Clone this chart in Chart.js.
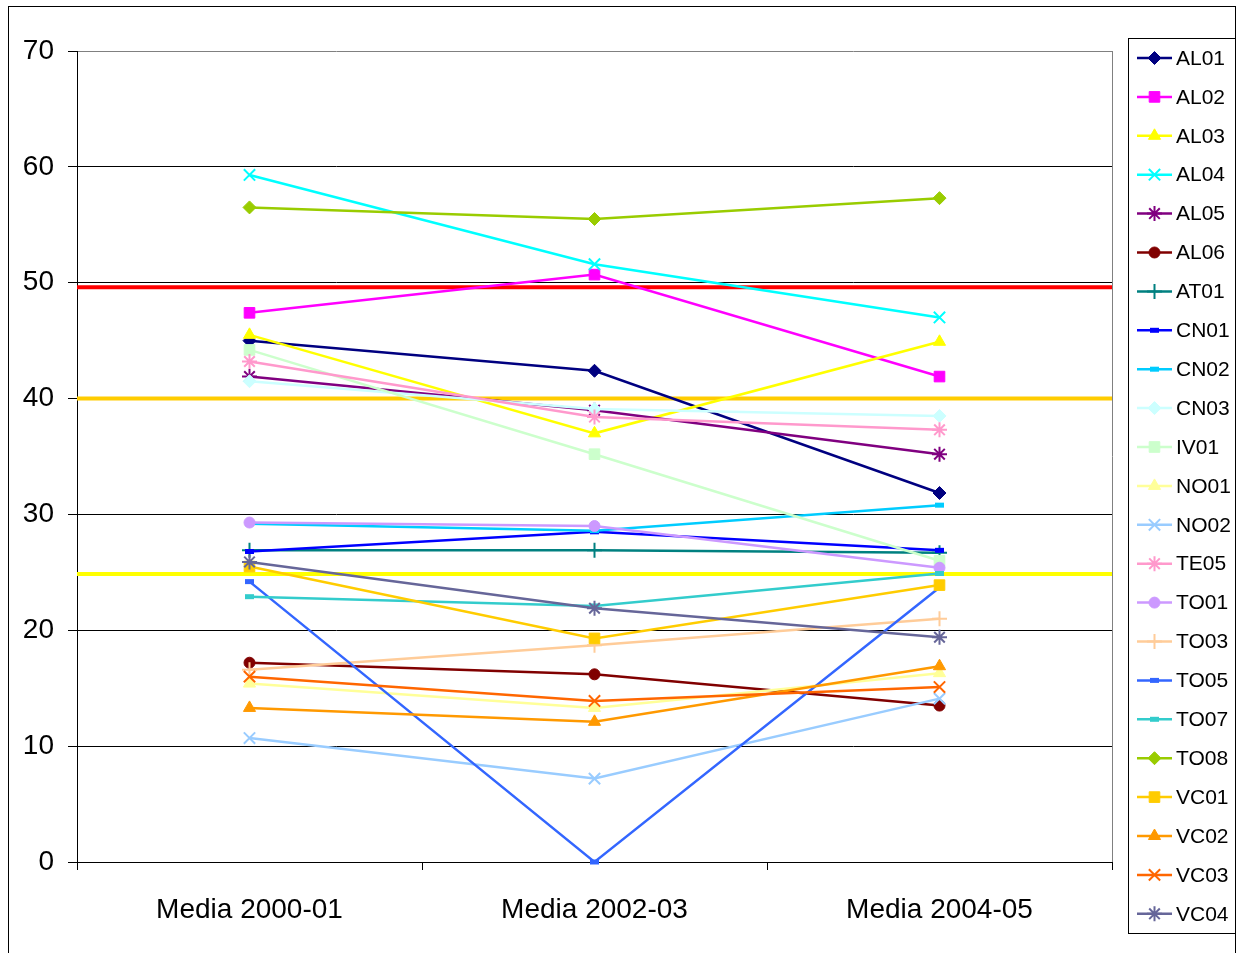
<!DOCTYPE html>
<html>
<head>
<meta charset="utf-8">
<style>
  html, body { margin: 0; padding: 0; background: #ffffff; }
  #wrap { width: 1241px; height: 953px; position: relative; }
</style>
<script src="https://cdn.jsdelivr.net/npm/chart.js@4/dist/chart.umd.min.js"></script>
</head>
<body>
<div id="wrap"><canvas id="c" width="1241" height="953"></canvas></div>
<script>
// ---------- DATA ----------
const categories = ['Media 2000-01', 'Media 2002-03', 'Media 2004-05'];
const seriesNames = ['AL01','AL02','AL03','AL04','AL05','AL06','AT01','CN01','CN02','CN03','IV01',
                     'NO01','NO02','TE05','TO01','TO03','TO05','TO07','TO08','VC01','VC02','VC03','VC04'];
const AL01 = [45.0, 42.4, 31.85];
const AL02 = [47.4, 50.7, 41.9];
const AL03 = [45.5, 37.0, 44.9];
const AL04 = [59.3, 51.6, 47.0];
const AL05 = [41.9, 39.0, 35.2];
const AL06 = [17.2, 16.2, 13.5];
const AT01 = [26.9, 26.9, 26.7];
const CN01 = [26.8, 28.5, 26.9];
const CN02 = [29.2, 28.6, 30.8];
const CN03 = [41.5, 39.1, 38.5];
const IV01 = [44.2, 35.2, 26.0];
const NO01 = [15.4, 13.3, 16.3];
const NO02 = [10.7, 7.2, 14.1];
const TE05 = [43.2, 38.4, 37.3];
const TO01 = [29.3, 29.0, 25.4];
const TO03 = [16.6, 18.7, 21.0];
const TO05 = [24.2, 0, 23.7];
const TO07 = [22.9, 22.1, 24.9];
const TO08 = [56.5, 55.5, 57.3];
const VC01 = [25.5, 19.3, 23.9];
const VC02 = [13.3, 12.1, 16.9];
const VC03 = [16.0, 13.9, 15.1];
const VC04 = [25.9, 21.9, 19.4];
const seriesValues = [AL01, AL02, AL03, AL04, AL05, AL06, AT01, CN01, CN02, CN03, IV01,
                      NO01, NO02, TE05, TO01, TO03, TO05, TO07, TO08, VC01, VC02, VC03, VC04];
const referenceLevels = [49.6, 40, 24.85];
const yTicks = [0, 10, 20, 30, 40, 50, 60, 70];

// ---------- STYLES ----------
const seriesColors = ['#000080','#FF00FF','#FFFF00','#00FFFF','#800080','#800000','#008080','#0000FF',
                      '#00CCFF','#CCFFFF','#CCFFCC','#FFFF99','#99CCFF','#FF99CC','#CC99FF','#FFCC99',
                      '#3366FF','#33CCCC','#99CC00','#FFCC00','#FF9900','#FF6600','#666699'];
const seriesMarkers = ['diamond','square','triangle','x','star','circle','plus','dash',
                       'dash','diamond','square','triangle','x','star','circle','plus',
                       'dash','dash','diamond','square','triangle','x','star'];
const referenceColors = ['#FF0000', '#FFCC00', '#FFFF00'];

const markerMap = {
  diamond:  { style: 'rectRot',  radius: 6.5, bw: 1 },
  square:   { style: 'rect',     radius: 7.5, bw: 1 },
  triangle: { style: 'triangle', radius: 7,   bw: 1 },
  x:        { style: 'crossRot', radius: 8,   bw: 2 },
  star:     { style: 'star',     radius: 7.5, bw: 2 },
  circle:   { style: 'circle',   radius: 5.5, bw: 1 },
  plus:     { style: 'cross',    radius: 7.5, bw: 2 },
  dash:     { style: 'line',     radius: 4.5, bw: 5 }
};

const FONT = "'Liberation Sans Narrow', 'Liberation Sans', Arial, sans-serif";

const datasets = seriesNames.map((name, i) => {
  const m = markerMap[seriesMarkers[i]];
  return {
    label: name,
    data: seriesValues[i],
    borderColor: seriesColors[i],
    backgroundColor: seriesColors[i],
    pointBackgroundColor: seriesColors[i],
    pointBorderColor: seriesColors[i],
    pointStyle: m.style,
    pointRadius: m.radius,
    pointBorderWidth: m.bw,
    borderWidth: 2.5,
    tension: 0,
    clip: false,
    order: seriesNames.length - i
  };
});

// ---------- PLUGINS ----------
const framePlugin = {
  id: 'frame',
  beforeDraw(chart) {
    const ctx = chart.ctx;
    ctx.save();
    ctx.strokeStyle = '#000000';
    ctx.lineWidth = 1;
    ctx.strokeRect(8.5, 6.5, 1227, 1000);
    ctx.restore();
  },
  beforeDatasetsDraw(chart) {
    const ctx = chart.ctx, a = chart.chartArea, y = chart.scales.y;
    ctx.save();
    ctx.strokeStyle = '#808080';
    ctx.lineWidth = 1;
    ctx.beginPath();
    ctx.moveTo(Math.round(a.right) + 0.5, a.top);
    ctx.lineTo(Math.round(a.right) + 0.5, a.bottom);
    ctx.stroke();
    referenceLevels.forEach((v, i) => {
      const py = y.getPixelForValue(v);
      ctx.strokeStyle = referenceColors[i];
      ctx.lineWidth = 4;
      ctx.beginPath();
      ctx.moveTo(a.left, py);
      ctx.lineTo(a.right, py);
      ctx.stroke();
    });
    ctx.restore();
  }
};

const legendPlugin = {
  id: 'boxLegend',
  afterDraw(chart) {
    const ctx = chart.ctx;
    const boxL = 1128.5, boxT = 38.5, boxW = 107, boxH = 895;
    ctx.save();
    ctx.strokeStyle = '#000000';
    ctx.lineWidth = 1;
    ctx.strokeRect(boxL, boxT, boxW, boxH);
    const step = 38.9, y0 = 58;
    chart.data.datasets.forEach((ds, i) => {
      const y = y0 + i * step;
      ctx.strokeStyle = ds.borderColor;
      ctx.lineWidth = 2.5;
      ctx.beginPath();
      ctx.moveTo(1137, y);
      ctx.lineTo(1172, y);
      ctx.stroke();
      ctx.fillStyle = ds.pointBackgroundColor;
      ctx.strokeStyle = ds.pointBorderColor;
      ctx.lineWidth = ds.pointBorderWidth;
      Chart.helpers.drawPoint(ctx, {
        pointStyle: ds.pointStyle, rotation: 0, radius: ds.pointRadius, borderWidth: ds.pointBorderWidth
      }, 1154.5, y);
      ctx.fillStyle = '#000000';
      ctx.font = '21px ' + FONT;
      ctx.textAlign = 'left';
      ctx.textBaseline = 'middle';
      ctx.fillText(ds.label, 1176, y + 1);
    });
    ctx.restore();
  }
};

// ---------- CHART ----------
new Chart(document.getElementById('c'), {
  type: 'line',
  data: { labels: categories, datasets: datasets },
  options: {
    responsive: false,
    animation: false,
    layout: { padding: { left: 0, top: 51, right: 129, bottom: 0 } },
    plugins: { legend: { display: false }, tooltip: { enabled: false } },
    scales: {
      x: {
        type: 'category',
        offset: true,
        afterFit(scale) { scale.height = 91; },
        grid: { offset: true, drawOnChartArea: false, color: '#000000', tickLength: 8, tickWidth: 1 },
        border: { color: '#000000', width: 1 },
        ticks: { color: '#000000', padding: 23, font: { family: FONT, size: 28 }, maxRotation: 0 }
      },
      y: {
        min: 0, max: 70,
        afterFit(scale) { scale.width = 77; },
        afterBuildTicks(scale) { scale.ticks = yTicks.map(v => ({ value: v })); },
        grid: {
          color: ctx => (ctx.tick && ctx.tick.value === 70) ? '#808080' : '#000000',
          tickColor: '#000000',
          tickLength: 9, lineWidth: 1
        },
        border: { color: '#000000', width: 1 },
        ticks: { color: '#000000', padding: 14, font: { family: FONT, size: 28 } }
      }
    }
  },
  plugins: [framePlugin, legendPlugin]
});
</script>
</body>
</html>
